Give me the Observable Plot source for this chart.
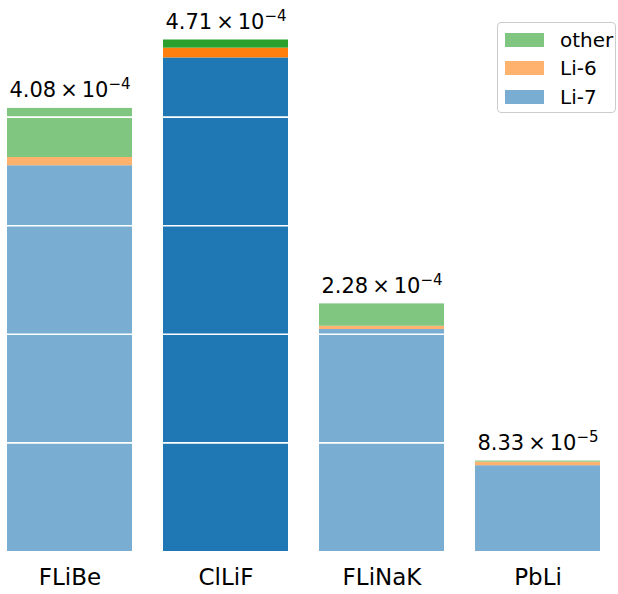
<!DOCTYPE html>
<html>
<head>
<meta charset="utf-8">
<script src="https://cdn.jsdelivr.net/npm/d3@7"></script>
<script src="https://cdn.jsdelivr.net/npm/@observablehq/plot@0.6"></script>
<style>
  html, body { margin: 0; padding: 0; background: #fff; }
  #wrap { position: relative; width: 618px; height: 594px; font-family: "DejaVu Sans", sans-serif; overflow: hidden; }
  #legend { position: absolute; left: 497px; top: 22px; width: 119px; height: 91px; border: 1px solid #cccccc; border-radius: 4px; background: rgba(255,255,255,0.8); box-sizing: border-box; }
  .row { position: absolute; left: 7px; height: 14px; display: flex; align-items: center; }
  .sw { width: 39px; height: 14px; }
  .lab { position: absolute; left: 55px; top: -13px; font-size: 20px; line-height: 40px; white-space: nowrap; color: #000; }
</style>
</head>
<body>
<div id="wrap"></div>
<script>
const materials = ["FLiBe", "ClLiF", "FLiNaK", "PbLi"];
const li7   = [3.552e-4, 4.545e-4, 2.044e-4, 7.90e-5];
const li6   = [0.076e-4, 0.090e-4, 0.030e-4, 0.33e-5];
const other = [0.452e-4, 0.075e-4, 0.206e-4, 0.10e-5];
const totals = [4.08e-4, 4.71e-4, 2.28e-4, 8.33e-5];
const isotopes = ["Li-7", "Li-6", "other"];
const lightColors = ["#79add2", "#ffb26e", "#80c680"];
const darkColors  = ["#1f77b4", "#ff7f0e", "#2ca02c"];
const highlighted = "ClLiF";
const gridValues = [1e-4, 2e-4, 3e-4, 4e-4];

const series = [li7, li6, other];
const rows = [];
materials.forEach((m, i) => {
  isotopes.forEach((iso, k) => {
    rows.push({material: m, isotope: iso, value: series[k][i],
      color: (m === highlighted ? darkColors : lightColors)[k]});
  });
});

function mantExp(v) {
  const e = Math.floor(Math.log10(v));
  return {m: (v / Math.pow(10, e)).toFixed(2), e: String(e).replace("-", "\u2212")};
}
const labels = totals.map(v => { const o = mantExp(v); return o.m + "|\u00d7|10|" + o.e; });

const chart = Plot.plot({
  width: 618,
  height: 594,
  marginTop: 8,
  marginBottom: 43,
  marginLeft: 7,
  marginRight: 18,
  style: {fontFamily: "DejaVu Sans, sans-serif", background: "white"},
  x: {domain: materials, paddingInner: 0.2, paddingOuter: 0, label: null},
  y: {domain: [0, 5e-4], axis: null},
  color: {type: "identity"},
  marks: [
    Plot.barY(rows, {x: "material", y: "value", fill: "color", inset: 0}),
    Plot.ruleY(gridValues, {stroke: "white", strokeWidth: 1.6}),
    Plot.text(materials.map((m, i) => ({material: m, total: totals[i], label: labels[i]})),
      {x: "material", y: "total", text: "label", lineAnchor: "bottom", dy: -11, fontSize: 21, fill: "black"}),
    Plot.axisX({tickSize: 0, tickPadding: 17, fontSize: 23, label: null, color: "black"})
  ]
});

d3.select(chart).selectAll("g[aria-label=text] text").each(function() {
  const t = d3.select(this);
  const [mant, times, ten, exp] = t.text().split("|");
  t.text(null);
  t.append("tspan").text(mant);
  t.append("tspan").attr("dx", 4).text(times);
  t.append("tspan").attr("dx", 4).text(ten);
  t.append("tspan").attr("font-size", 15).attr("dy", -8).text(exp);
});

const wrap = document.getElementById("wrap");
wrap.appendChild(chart);

const legend = document.createElement("div");
legend.id = "legend";
const legendOrder = [2, 1, 0];
const rowTops = [10, 38, 67];
legendOrder.forEach((k, j) => {
  const r = document.createElement("div");
  r.className = "row";
  r.style.top = rowTops[j] + "px";
  const sw = document.createElement("div");
  sw.className = "sw";
  sw.style.background = lightColors[k];
  const lab = document.createElement("div");
  lab.className = "lab";
  lab.textContent = isotopes[k];
  r.appendChild(sw);
  r.appendChild(lab);
  legend.appendChild(r);
});
wrap.appendChild(legend);
</script>
</body>
</html>
